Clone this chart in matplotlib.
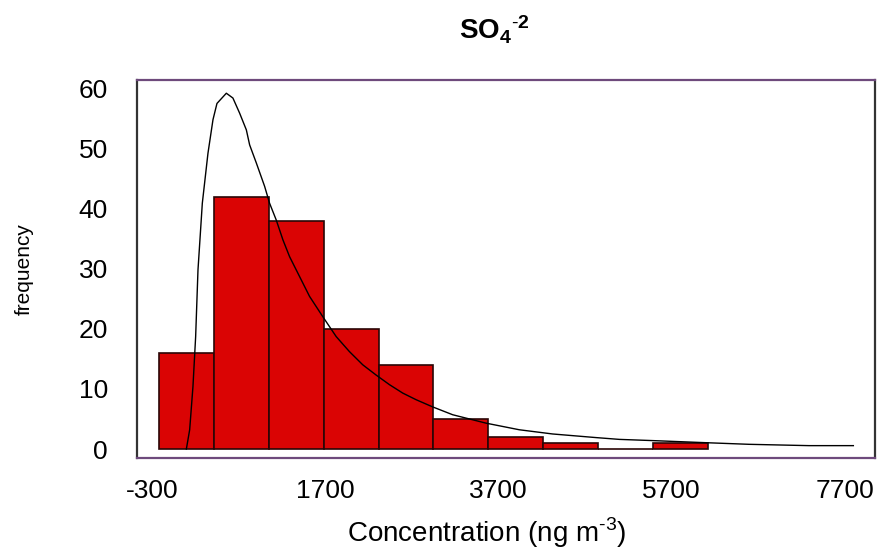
import matplotlib
matplotlib.use("Agg")
import matplotlib.pyplot as plt

plt.rcParams['font.family'] = ['Liberation Sans', 'DejaVu Sans']
plt.rcParams['mathtext.fontset'] = 'custom'
plt.rcParams['mathtext.rm'] = 'Liberation Sans'
plt.rcParams['mathtext.bf'] = 'Liberation Sans:bold'

# histogram bins (ng m-3) and counts
bin_edges = [-215, 418, 1051, 1684, 2317, 2950, 3583, 4216, 4849, 5482, 6115]
counts = [16, 42, 38, 20, 14, 5, 2, 1, 0, 1]

# fitted density curve, scaled to frequency
curve_x = [100, 138, 176, 207, 234, 284, 349, 407, 453, 561, 637, 714, 792, 830,
           907, 1003, 1060, 1137, 1214, 1291, 1406, 1521, 1675, 1829, 1982, 2136,
           2290, 2444, 2597, 2751, 2943, 3173, 3558, 3942, 4326, 4826, 5095, 5479,
           6094, 6593, 7285, 7796]
curve_y = [0, 3.2, 10.4, 18.7, 29.8, 40.9, 49.2, 54.8, 57.5, 59.2, 58.4, 55.9, 53.1, 50.6,
           47.6, 43.7, 40.9, 38.1, 34.8, 32.0, 28.7, 25.4, 22.0, 18.7, 16.2, 14.0,
           12.3, 10.7, 9.3, 8.2, 7.0, 5.7, 4.3, 3.2, 2.5, 1.9, 1.6, 1.4,
           1.05, 0.78, 0.56, 0.56]

xticks = [-300, 1700, 3700, 5700, 7700]
xtick_labels = ['-300', '1700', '3700', '5700', '7700']
yticks = [0, 10, 20, 30, 40, 50, 60]

fig = plt.figure(figsize=(8.86, 5.51), dpi=100)
ax = fig.add_axes([0.1546, 0.1693, 0.8330, 0.6855])

widths = [bin_edges[i + 1] - bin_edges[i] for i in range(len(counts))]
ax.bar(bin_edges[:-1], counts, width=widths, align='edge',
       color='#DA0404', edgecolor='#2a0606', linewidth=1.2, zorder=2)
ax.plot(curve_x, curve_y, color='black', linewidth=1.0, zorder=3)

ax.set_xlim(-470, 8046)
ax.set_ylim(-1.45, 61.4)
ax.set_xticks(xticks, labels=xtick_labels)
ax.set_yticks(yticks)
ax.tick_params(axis='both', length=0, labelsize=19)
ax.tick_params(axis='x', pad=15)
ax.tick_params(axis='y', pad=21)

for side in ['top', 'bottom']:
    ax.spines[side].set_color('#6e4a7c')
    ax.spines[side].set_linewidth(1.6)
for side in ['left', 'right']:
    ax.spines[side].set_color('#333333')
    ax.spines[side].set_linewidth(1.6)

ax.set_xlabel(r'Concentration (ng m$^{\text{-}3}$)', fontsize=20)
ax.xaxis.set_label_coords(0.474, -0.152)
ax.set_ylabel('frequency', fontsize=15, labelpad=32)

fig.text(0.558, 0.945, r'$\mathbf{SO_4{}^{\text{-}2}}$', fontsize=20,
         ha='center', va='center')

fig.savefig('out.png', dpi=100)
